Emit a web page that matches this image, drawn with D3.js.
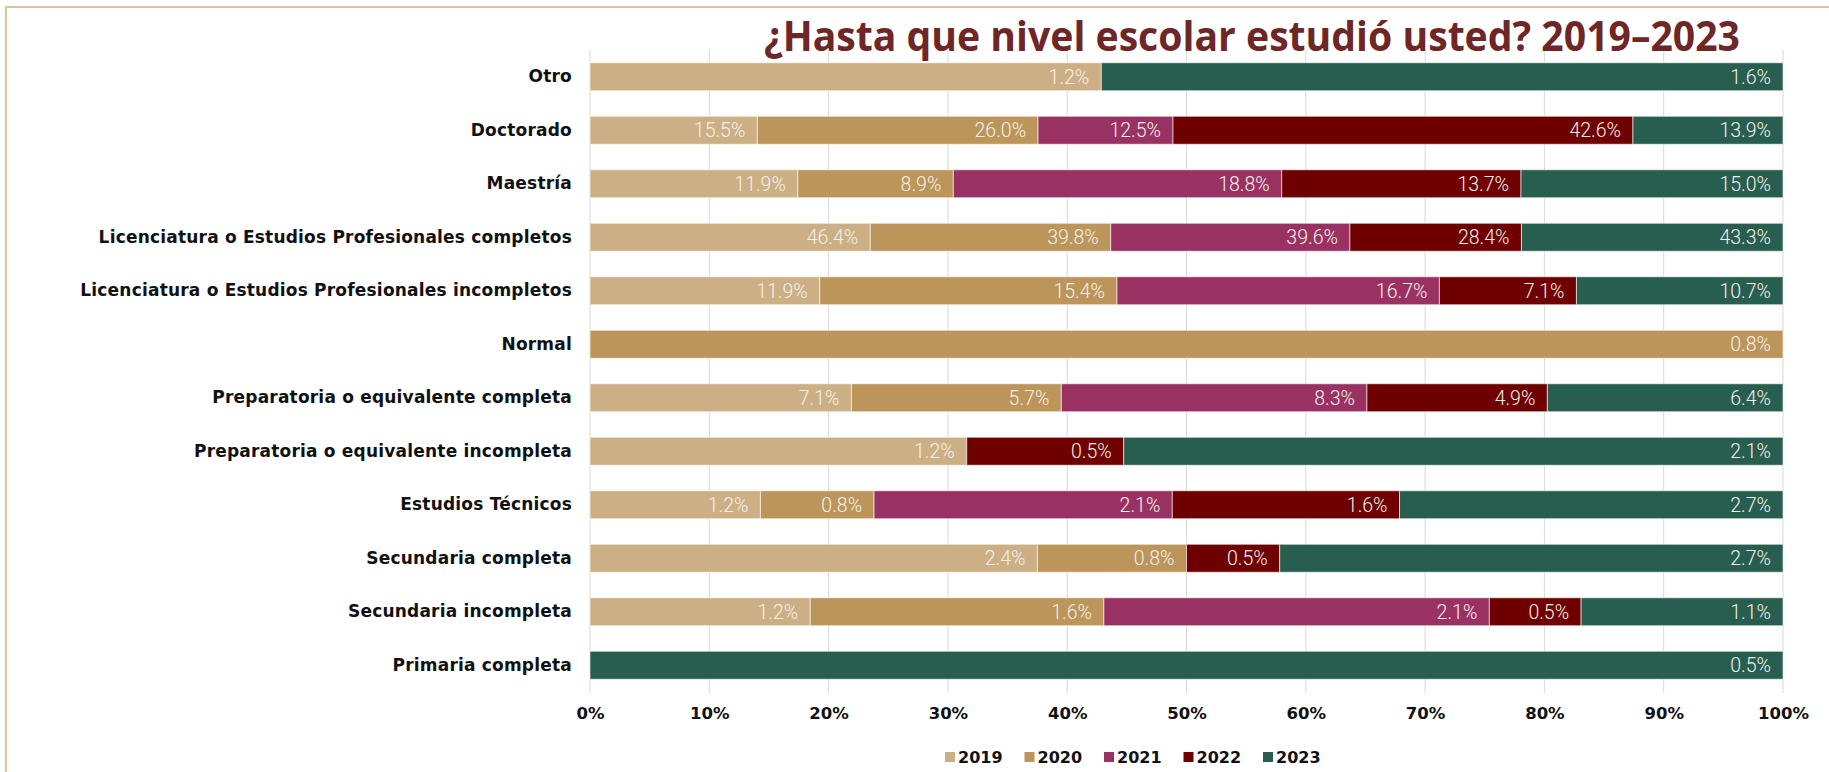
<!DOCTYPE html>
<html>
<head>
<meta charset="utf-8">
<script src="https://cdn.jsdelivr.net/npm/d3@7"></script>
<style>
  html, body { margin: 0; padding: 0; background: #fff; }
  svg { display: block; }
</style>
</head>
<body>
<svg id="chart"></svg>
<script>
const width = 1829,
  height = 772

const categories = [
  'Otro',
  'Doctorado',
  'Maestría',
  'Licenciatura o Estudios Profesionales completos',
  'Licenciatura o Estudios Profesionales incompletos',
  'Normal',
  'Preparatoria o equivalente completa',
  'Preparatoria o equivalente incompleta',
  'Estudios Técnicos',
  'Secundaria completa',
  'Secundaria incompleta',
  'Primaria completa'
]

const years = ['2019', '2020', '2021', '2022', '2023']

// share of respondents per year (%), in category order
const v2019 = [1.2, 15.5, 11.9, 46.4, 11.9, 0, 7.1, 1.2, 1.2, 2.4, 1.2, 0]
const v2020 = [0, 26.0, 8.9, 39.8, 15.4, 0.8, 5.7, 0, 0.8, 0.8, 1.6, 0]
const v2021 = [0, 12.5, 18.8, 39.6, 16.7, 0, 8.3, 0, 2.1, 0, 2.1, 0]
const v2022 = [0, 42.6, 13.7, 28.4, 7.1, 0, 4.9, 0.5, 1.6, 0.5, 0.5, 0]
const v2023 = [1.6, 13.9, 15.0, 43.3, 10.7, 0, 6.4, 2.1, 2.7, 2.7, 1.1, 0.5]

const tickValues = [0, 0.1, 0.2, 0.3, 0.4, 0.5, 0.6, 0.7, 0.8, 0.9, 1]

const colors = ['#cdaf86', '#bc955b', '#993263', '#6f0000', '#285e4f']

let series = [v2019, v2020, v2021, v2022, v2023]

let rows = categories.map((name, i) => {
  let row = { name }
  years.forEach((y, j) => { row[y] = series[j][i] })
  return row
})

let stacked = d3.stack()
  .keys(years)
  .offset(d3.stackOffsetExpand)(rows)

let svg = d3.select('#chart')
  .attr('width', width)
  .attr('height', height)

// outer frame
svg.append('rect')
  .attr('x', 6)
  .attr('y', 7)
  .attr('width', width)
  .attr('height', height)
  .attr('fill', 'none')
  .attr('stroke', '#dcc59f')
  .attr('stroke-width', 2)

let x = d3.scaleLinear()
  .domain([0, 1])
  .range([590, 1783])

let y = d3.scaleBand()
  .domain(categories)
  .range([50, 692])
  .paddingInner(0.477)
  .paddingOuter(0.2385)

// gridlines
svg.append('g')
  .selectAll('line')
  .data(tickValues)
  .join('line')
    .attr('x1', d => x(d))
    .attr('x2', d => x(d))
    .attr('y1', 50)
    .attr('y2', 693)
    .attr('stroke', '#d9d9d9')
    .attr('stroke-width', 1)

let labelFont = '"DejaVu Sans", sans-serif'

let xAxis = svg.append('g')
  .attr('transform', 'translate(0, 693)')
  .call(d3.axisBottom(x).tickValues(tickValues).tickFormat(d3.format('.0%')).tickSize(0).tickPadding(14))

xAxis.select('.domain').remove()
xAxis.selectAll('text')
  .attr('font-family', labelFont)
  .attr('font-weight', 700)
  .attr('font-size', 16.5)
  .attr('fill', '#111')

let yAxis = svg.append('g')
  .attr('transform', 'translate(572, 0)')
  .call(d3.axisLeft(y).tickSize(0).tickPadding(0))

yAxis.select('.domain').remove()
yAxis.selectAll('text')
  .attr('font-family', labelFont)
  .attr('font-weight', 700)
  .attr('font-size', 17)
  .attr('letter-spacing', 0.2)
  .attr('fill', '#111')

// bars
let layers = svg.append('g')
  .selectAll('g')
  .data(stacked)
  .join('g')
    .attr('fill', (d, i) => colors[i])

layers.selectAll('rect')
  .data(d => d.filter(s => s[1] > s[0]))
  .join('rect')
    .attr('x', d => x(d[0]))
    .attr('y', d => y(d.data.name))
    .attr('width', d => x(d[1]) - x(d[0]))
    .attr('height', y.bandwidth())
    .attr('stroke', 'rgba(255,255,255,0.6)')
    .attr('stroke-width', 1)

// value labels, right-aligned inside each segment
layers.each(function(layer) {
  let key = layer.key
  d3.select(this).selectAll('text')
    .data(layer.filter(s => s[1] > s[0]))
    .join('text')
      .attr('x', d => x(d[1]) - 12)
      .attr('y', d => y(d.data.name) + y.bandwidth() / 2)
      .attr('dy', '0.36em')
      .attr('text-anchor', 'end')
      .attr('font-family', 'Roboto, sans-serif')
      .attr('font-weight', 300)
      .attr('font-size', 19.5)
      .attr('fill', '#f4efe6')
      .text(d => d.data[key].toFixed(1) + '%')
})

// title
svg.append('text')
  .attr('x', 764)
  .attr('y', 51)
  .attr('font-family', '"Open Sans", sans-serif')
  .attr('font-weight', 700)
  .attr('font-size', 41)
  .attr('fill', '#6e2627')
  .attr('textLength', 976)
  .attr('lengthAdjust', 'spacingAndGlyphs')
  .text('¿Hasta que nivel escolar estudió usted? 2019–2023')

// legend
let legend = svg.append('g')
  .selectAll('g')
  .data(years)
  .join('g')
    .attr('transform', (d, i) => `translate(${945 + i * 79.5}, 757)`)

legend.append('rect')
  .attr('x', 0)
  .attr('y', -5)
  .attr('width', 10)
  .attr('height', 10)
  .attr('fill', (d, i) => colors[i])

legend.append('text')
  .attr('x', 13)
  .attr('dy', '0.36em')
  .attr('font-family', labelFont)
  .attr('font-weight', 700)
  .attr('font-size', 16)
  .attr('fill', '#111')
  .text(d => d)
</script>
</body>
</html>
